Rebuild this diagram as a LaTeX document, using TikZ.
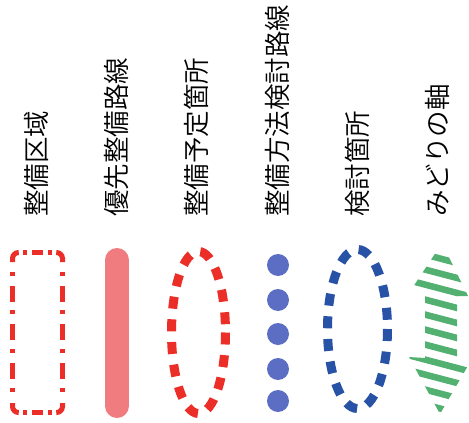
\documentclass[tikz,border=0pt]{standalone}
\usepackage{fontspec}
\IfFontExistsTF{Noto Sans CJK JP DemiLight}
  {\newfontfamily\jp{Noto Sans CJK JP DemiLight}}
  {\newfontfamily\jp{Noto Sans CJK JP}}
\definecolor{zred}{RGB}{236,46,40}
\definecolor{zpink}{RGB}{240,124,128}
\definecolor{zdot}{RGB}{92,110,196}
\definecolor{zblue}{RGB}{40,82,166}
\definecolor{zgreen}{RGB}{82,176,112}
\begin{document}
\begin{tikzpicture}[x=1pt,y=-1pt]
\useasboundingbox (0,0) rectangle (469,423);
\tikzset{
  lbl/.style={rotate=90,anchor=west,inner sep=0pt,font=\jp\fontsize{26.5}{26.5}\selectfont},
  dotellipse/.style={line width=9,dash pattern=on 12 off 10.7},
  rectline/.style={zred,line width=5}
}
% labels
\node[lbl] (t1) at (36,217) {整備区域};
\node[lbl] (t2) at (116,217) {優先整備路線};
\node[lbl] (t3) at (196,217) {整備予定箇所};
\node[lbl] (t4) at (277,217) {整備方法検討路線};
\node[lbl] (t5) at (357,217) {検討箇所};
\node[lbl] (t6) at (437,217) {みどりの軸};
% 1 red dash-dot rectangle (drawn piece by piece)
\draw[rectline,rounded corners=6] (12.5,262) -- (12.5,252.5) -- (18,252.5);
\draw[rectline,rounded corners=6] (57,252.5) -- (62.5,252.5) -- (62.5,262);
\draw[rectline,rounded corners=6] (12.5,403) -- (12.5,412.5) -- (18,412.5);
\draw[rectline,rounded corners=6] (57,412.5) -- (62.5,412.5) -- (62.5,403);
\foreach \a/\b in {23/27,32/43,48/52} {
  \draw[rectline] (\a,252.5) -- (\b,252.5);
  \draw[rectline] (\a,412.5) -- (\b,412.5);
}
\foreach \a/\b in {272/276,286/302,310/314,324/340,349/353,363/379,388/392} {
  \draw[rectline] (12.5,\a) -- (12.5,\b);
  \draw[rectline] (62.5,\a) -- (62.5,\b);
}
% 2 pink bar
\draw[zpink,line width=24,line cap=round] (117,260) -- (117,406);
% 3 red dotted ellipse
\draw[zred,dotellipse] (198.5,332.5) ellipse [x radius=27,y radius=81];
% 4 blue dots
\foreach \yy in {265,300,334,369,401}
  \fill[zdot] (278,\yy) circle (11);
% 5 blue dotted ellipse
\draw[zblue,dotellipse] (357.5,329) ellipse [x radius=30,y radius=79.5];
% 6 green striped double arrow
\begin{scope}
\clip (442,243) -- (468,296) -- (457,296) -- (457,362) -- (469,364) -- (440,414)
  -- (409,357) -- (425,358) -- (425,290) -- (413,287) -- cycle;
\foreach \k in {0,...,13}
  \draw[zgreen,line width=6.5] (400,{248+15*\k}) -- (480,{269+15*\k});
\end{scope}
\end{tikzpicture}
\end{document}
